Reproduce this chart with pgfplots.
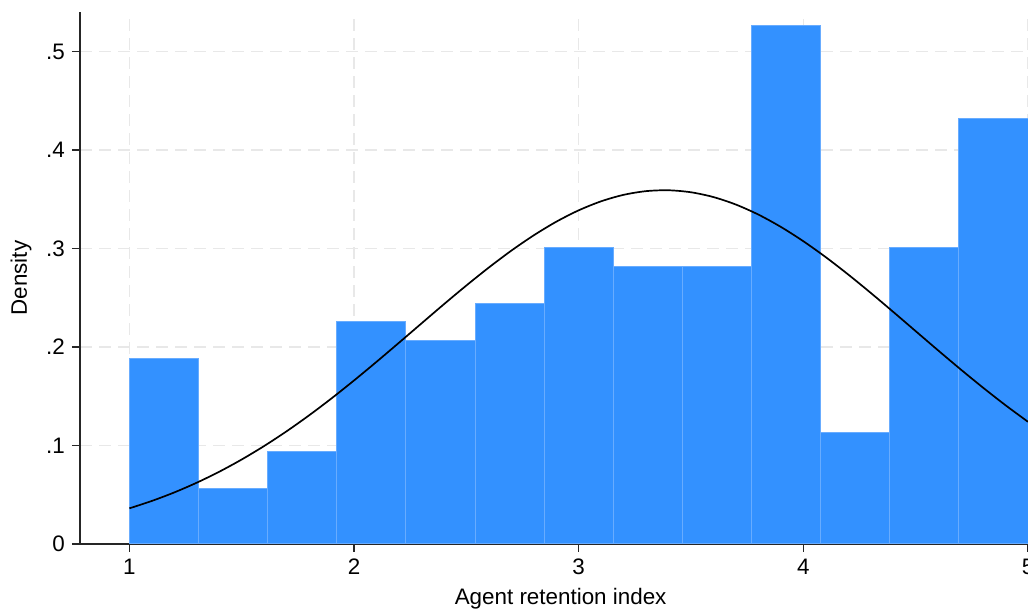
\documentclass[border=0pt]{standalone}
\usepackage{fontspec}
\setmainfont{Liberation Sans}
\usepackage{pgfplots}
\pgfplotsset{compat=1.18}
\definecolor{barfill}{RGB}{51,145,255}
\definecolor{baredge}{RGB}{104,172,255}
\definecolor{gridc}{RGB}{232,232,232}
\begin{document}
\begin{tikzpicture}
\begin{axis}[
  scale only axis,
  width=474pt, height=266pt,
  xmin=0.78, xmax=5, ymin=0, ymax=0.54,
  axis x line*=bottom, axis y line*=left,
  axis line style={-, black!85, line width=0.6pt},
  tick align=outside, major tick length=4pt,
  tick style={black!85, line width=0.6pt},
  xtick={1,2,3,4,5}, xticklabels={1,2,3,4,5},
  ytick={0,0.1,0.2,0.3,0.4,0.5}, yticklabels={0,.1,.2,.3,.4,.5},
  /pgf/number format/assume math mode=true,
  ticklabel style={font=\fontsize{11.2}{13}\selectfont},
  yticklabel style={anchor=east, xshift=0pt},
  grid=major,
  major grid style={gridc, line width=0.75pt, dash pattern=on 6pt off 3.5pt},
  xlabel={Agent retention index},
  ylabel={Density},
  label style={font=\fontsize{11.2}{13}\selectfont},
  xlabel style={at={(axis description cs:0.507,0)}, anchor=base, yshift=-30.5pt},
  ylabel style={at={(axis description cs:0,0.5)}, anchor=base, yshift=26.6pt},
]
\addplot[ybar interval, fill=barfill, draw=baredge, line width=0.5pt] coordinates {
(1.00000,0.18786) (1.30769,0.05636) (1.61538,0.09393) (1.92308,0.22543)
(2.23077,0.20665) (2.53846,0.24422) (2.84615,0.30058) (3.15385,0.28179)
(3.46154,0.28179) (3.76923,0.52601) (4.07692,0.11272) (4.38462,0.30058)
(4.69231,0.43208) (5.00000,0.43208)};
\addplot[black, line width=0.85pt, smooth] coordinates {
(1.0,0.03620) (1.1,0.04372) (1.2,0.05237) (1.3,0.06225) (1.4,0.07337)
(1.5,0.08579) (1.6,0.09950) (1.7,0.11446) (1.8,0.13063) (1.9,0.14786)
(2.0,0.16603) (2.1,0.18492) (2.2,0.20430) (2.3,0.22387) (2.4,0.24338)
(2.5,0.26240) (2.6,0.28065) (2.7,0.29776) (2.8,0.31334) (2.9,0.32711)
(3.0,0.33870) (3.1,0.34787) (3.2,0.35442) (3.3,0.35817) (3.4,0.35904)
(3.5,0.35701) (3.6,0.35213) (3.7,0.34451) (3.8,0.33434) (3.9,0.32184)
(4.0,0.30732) (4.1,0.29109) (4.2,0.27348) (4.3,0.25487) (4.4,0.23561)
(4.5,0.21605) (4.6,0.19650) (4.7,0.17729) (4.8,0.15867) (4.9,0.14085)
(5.0,0.12403)};
\coordinate (bbSW) at (axis cs:0.42388,-0.06598);
\coordinate (bbNE) at (axis cs:5.0,0.55218);
\end{axis}
\pgfresetboundingbox
\useasboundingbox (bbSW) rectangle (bbNE);
\end{tikzpicture}
\end{document}
